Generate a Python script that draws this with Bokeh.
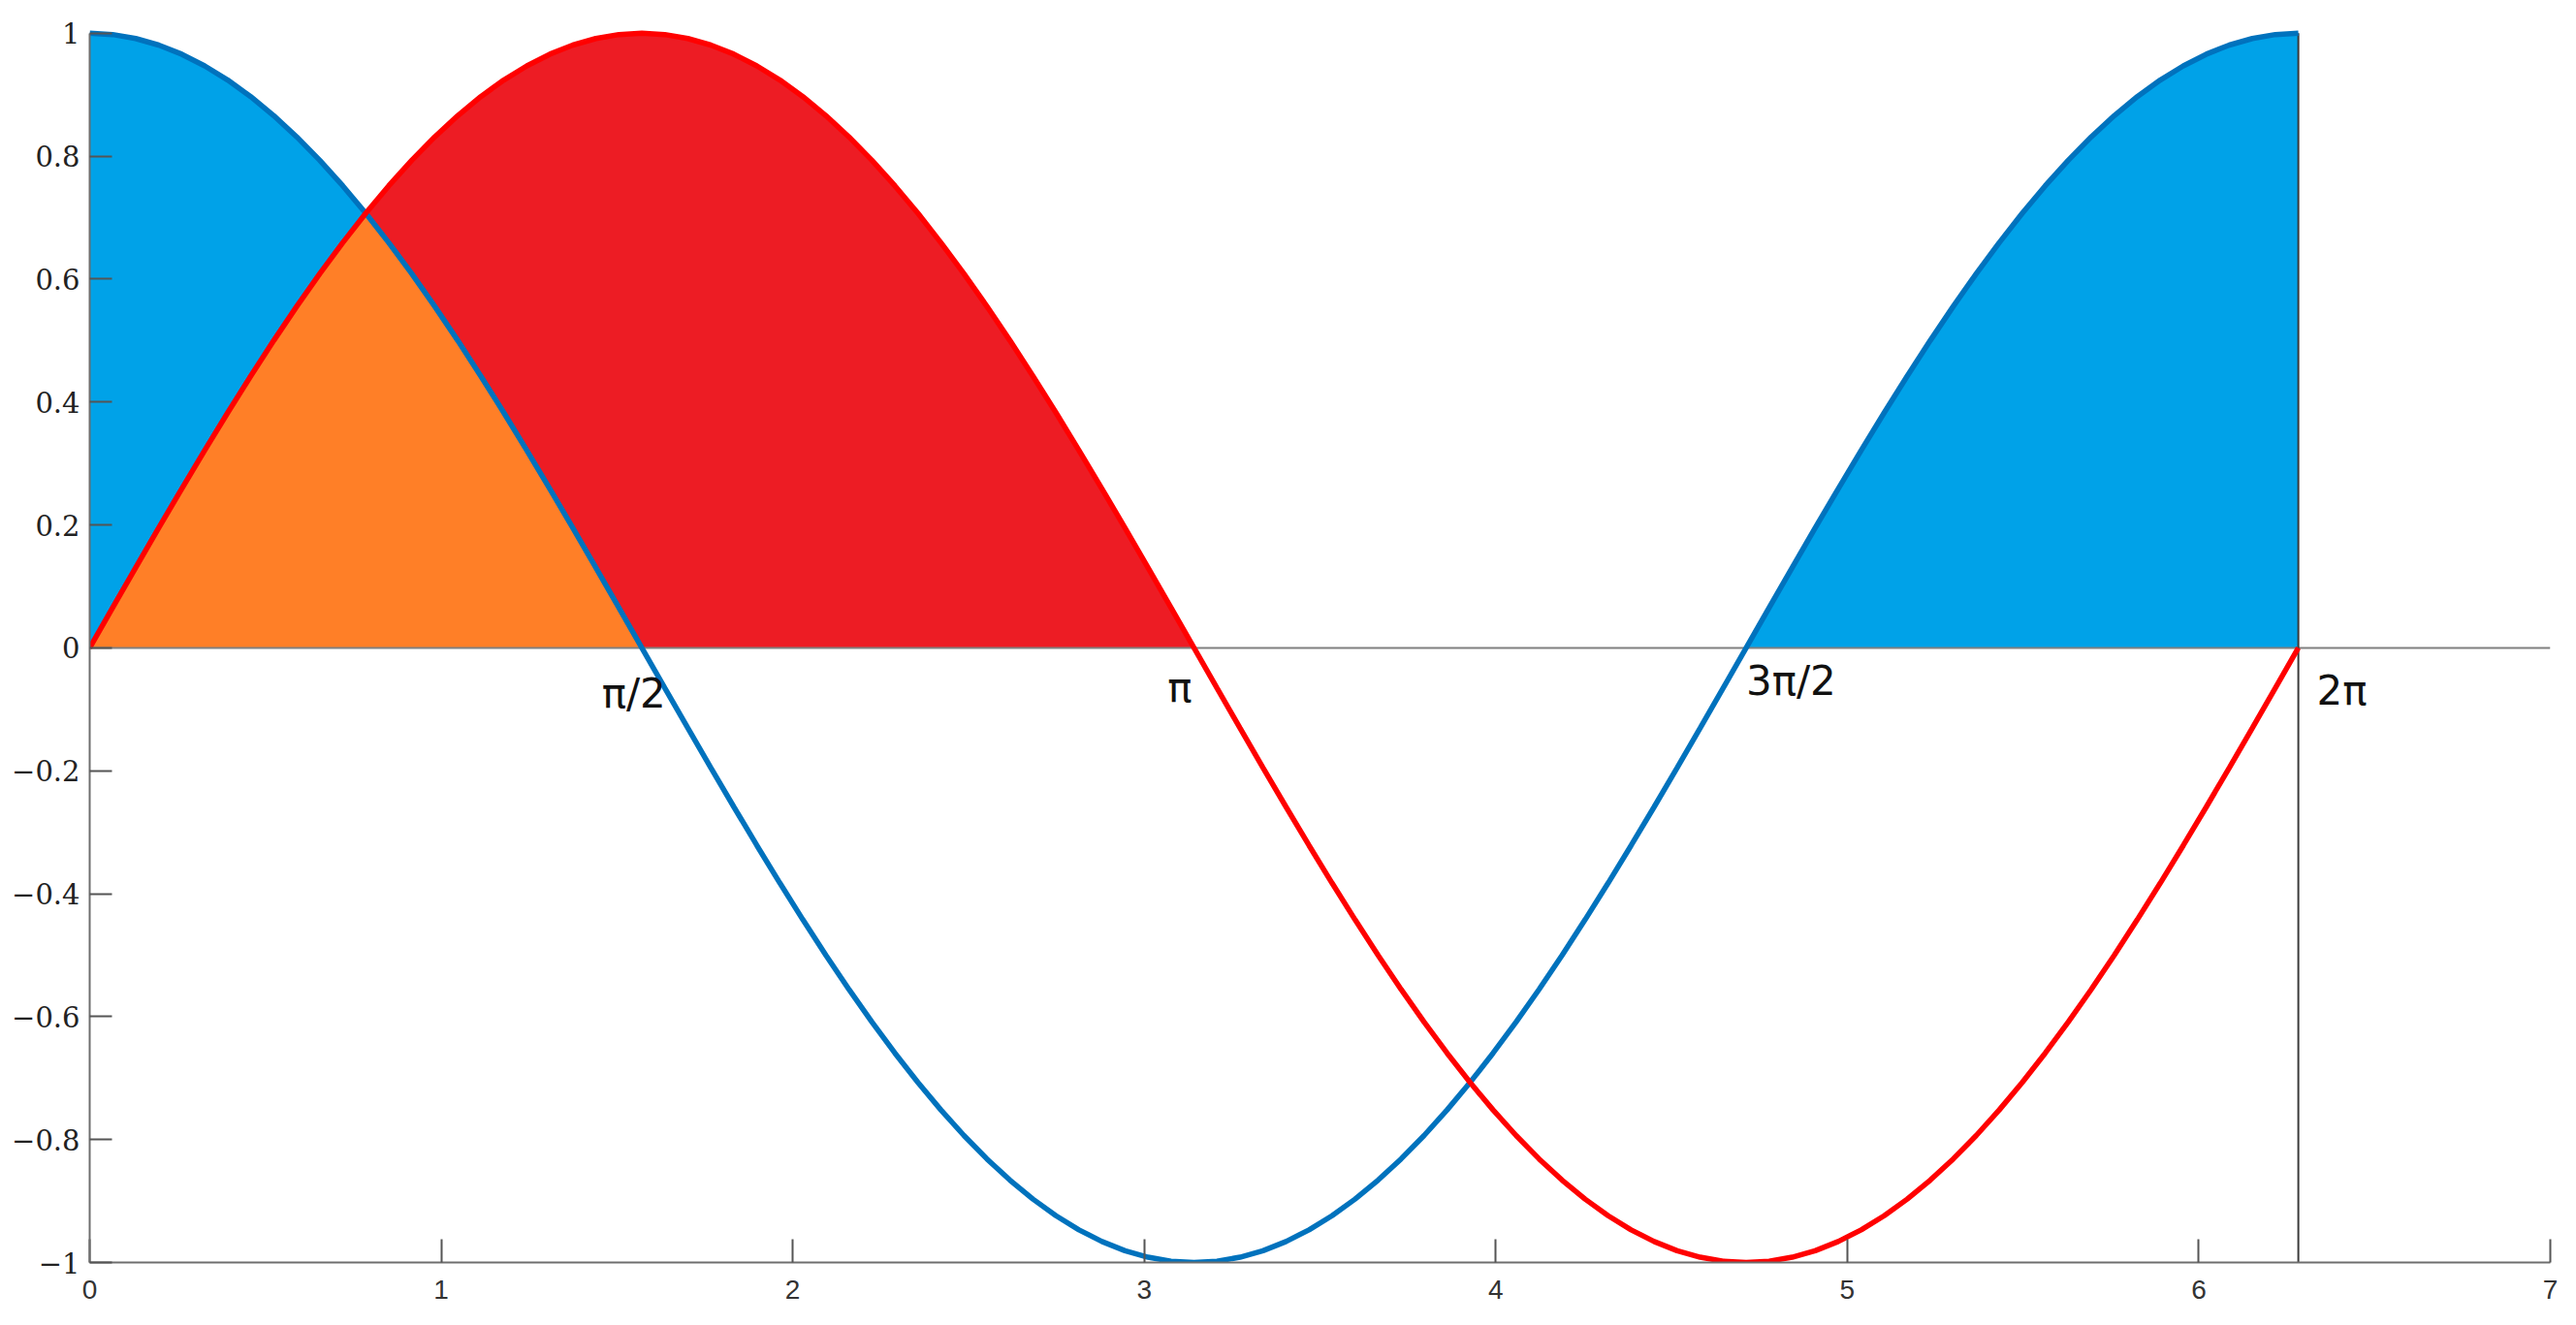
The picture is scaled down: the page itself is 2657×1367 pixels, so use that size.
from bokeh.plotting import figure
from bokeh.models import Range1d, FixedTicker
from bokeh.core.properties import value
from bokeh.embed import file_html
from bokeh.resources import INLINE
import numpy as np

# ---- data (angle samples over one period, with sine and cosine values) ----
angle = [0.0, 0.0654, 0.1309, 0.1963, 0.2618, 0.3272, 0.3927, 0.4581, 0.5236, 0.5890,
         0.6545, 0.7199, 0.7854, 0.8508, 0.9163, 0.9817, 1.0472, 1.1126, 1.1781, 1.2435,
         1.3090, 1.3744, 1.4399, 1.5053, 1.5708, 1.6362, 1.7017, 1.7671, 1.8326, 1.8980,
         1.9635, 2.0289, 2.0944, 2.1598, 2.2253, 2.2907, 2.3562, 2.4216, 2.4871, 2.5525,
         2.6180, 2.6834, 2.7489, 2.8143, 2.8798, 2.9452, 3.0107, 3.0761, 3.1416, 3.2070,
         3.2725, 3.3379, 3.4034, 3.4688, 3.5343, 3.5997, 3.6652, 3.7306, 3.7961, 3.8615,
         3.9270, 3.9924, 4.0579, 4.1233, 4.1888, 4.2542, 4.3197, 4.3851, 4.4506, 4.5160,
         4.5815, 4.6469, 4.7124, 4.7778, 4.8433, 4.9087, 4.9742, 5.0396, 5.1051, 5.1705,
         5.2360, 5.3014, 5.3669, 5.4323, 5.4978, 5.5632, 5.6287, 5.6941, 5.7596, 5.8250,
         5.8905, 5.9559, 6.0214, 6.0868, 6.1523, 6.2177, 6.2832]
sine = [0.0, 0.0654, 0.1305, 0.1951, 0.2588, 0.3214, 0.3827, 0.4423, 0.5, 0.5556,
        0.6088, 0.6593, 0.7071, 0.7518, 0.7934, 0.8315, 0.866, 0.8969, 0.9239, 0.9469,
        0.9659, 0.9808, 0.9914, 0.9979, 1.0,
        0.9979, 0.9914, 0.9808, 0.9659, 0.9469, 0.9239, 0.8969, 0.866, 0.8315, 0.7934,
        0.7518, 0.7071, 0.6593, 0.6088, 0.5556, 0.5, 0.4423, 0.3827, 0.3214, 0.2588,
        0.1951, 0.1305, 0.0654, 0.0,
        -0.0654, -0.1305, -0.1951, -0.2588, -0.3214, -0.3827, -0.4423, -0.5, -0.5556, -0.6088,
        -0.6593, -0.7071, -0.7518, -0.7934, -0.8315, -0.866, -0.8969, -0.9239, -0.9469, -0.9659,
        -0.9808, -0.9914, -0.9979, -1.0,
        -0.9979, -0.9914, -0.9808, -0.9659, -0.9469, -0.9239, -0.8969, -0.866, -0.8315, -0.7934,
        -0.7518, -0.7071, -0.6593, -0.6088, -0.5556, -0.5, -0.4423, -0.3827, -0.3214, -0.2588,
        -0.1951, -0.1305, -0.0654, 0.0]
cosine = [1.0, 0.9979, 0.9914, 0.9808, 0.9659, 0.9469, 0.9239, 0.8969, 0.866, 0.8315,
          0.7934, 0.7518, 0.7071, 0.6593, 0.6088, 0.5556, 0.5, 0.4423, 0.3827, 0.3214,
          0.2588, 0.1951, 0.1305, 0.0654, 0.0,
          -0.0654, -0.1305, -0.1951, -0.2588, -0.3214, -0.3827, -0.4423, -0.5, -0.5556, -0.6088,
          -0.6593, -0.7071, -0.7518, -0.7934, -0.8315, -0.866, -0.8969, -0.9239, -0.9469, -0.9659,
          -0.9808, -0.9914, -0.9979, -1.0,
          -0.9979, -0.9914, -0.9808, -0.9659, -0.9469, -0.9239, -0.8969, -0.866, -0.8315, -0.7934,
          -0.7518, -0.7071, -0.6593, -0.6088, -0.5556, -0.5, -0.4423, -0.3827, -0.3214, -0.2588,
          -0.1951, -0.1305, -0.0654, 0.0,
          0.0654, 0.1305, 0.1951, 0.2588, 0.3214, 0.3827, 0.4423, 0.5, 0.5556, 0.6088,
          0.6593, 0.7071, 0.7518, 0.7934, 0.8315, 0.866, 0.8969, 0.9239, 0.9469, 0.9659,
          0.9808, 0.9914, 0.9979, 1.0]

x_ticks = [0, 1, 2, 3, 4, 5, 6, 7]
x_tick_labels = ["0", "1", "2", "3", "4", "5", "6", "7"]
y_ticks = [-1, -0.8, -0.6, -0.4, -0.2, 0, 0.2, 0.4, 0.6, 0.8, 1]
y_tick_labels = ["\u22121", "\u22120.8", "\u22120.6", "\u22120.4", "\u22120.2", "0",
                 "0.2", "0.4", "0.6", "0.8", "1"]
angle_labels = ["\u03c0/2", "\u03c0", "3\u03c0/2", "2\u03c0"]
period_end = 6.2832

# ---- layout constants ----
label_x = [1.548, 3.101, 4.840, 6.407]
label_y = [-0.075, -0.065, -0.054, -0.07]

x = np.array(angle)
s = np.array(sine)
c = np.array(cosine)

p = figure(width=2640, height=1352, output_backend="svg", toolbar_location=None,
           x_range=Range1d(0, 7), y_range=Range1d(-1, 1.006),
           min_border_left=92, min_border_right=10, min_border_top=30, min_border_bottom=50)
p.grid.visible = False
p.outline_line_color = None
p.background_fill_color = "white"

# fills
p.varea(x=x[0:13], y1=s[0:13], y2=c[0:13], fill_color="#00A2E8")
p.varea(x=x[0:25], y1=np.zeros(25), y2=np.minimum(s[0:25], c[0:25]), fill_color="#FF7F27")
p.varea(x=x[12:49], y1=np.maximum(c[12:49], 0), y2=s[12:49], fill_color="#ED1C24")
p.varea(x=x[72:97], y1=np.zeros(25), y2=c[72:97], fill_color="#00A2E8")

# zero line and period end line
p.segment(x0=[0], y0=[0], x1=[7], y1=[0], line_color="#808080", line_width=2)
p.segment(x0=[period_end], y0=[-1], x1=[period_end], y1=[1], line_color="#3a3a3a", line_width=2)

# curves
p.line(x, c, line_color="#0072BD", line_width=5.5)
p.line(x, s, line_color="#FF0000", line_width=5.5)

# angle labels
p.text(x=label_x, y=label_y, text=angle_labels, text_font=value("DejaVu Sans"),
       text_font_size="42px", text_align="center", text_baseline="middle", text_color="#111111")

# axes
xa = p.xaxis[0]
xa.ticker = FixedTicker(ticks=x_ticks)
xa.major_label_overrides = {t: l for t, l in zip(x_ticks, x_tick_labels)}
xa.major_tick_in = 24
xa.major_tick_out = 0
xa.minor_tick_line_color = None
xa.axis_line_color = "#6e6e6e"
xa.axis_line_width = 2
xa.major_tick_line_color = "#555555"
xa.major_tick_line_width = 2
xa.major_label_text_font = "Liberation Sans"
xa.major_label_text_font_size = "28px"
xa.major_label_text_color = "#333333"
xa.major_label_standoff = 18

ya = p.yaxis[0]
ya.bounds = (-1, 1)
ya.ticker = FixedTicker(ticks=y_ticks)
ya.major_label_overrides = {t: l for t, l in zip(y_ticks, y_tick_labels)}
ya.major_tick_in = 23
ya.major_tick_out = 0
ya.minor_tick_line_color = None
ya.axis_line_color = "#6e6e6e"
ya.axis_line_width = 2
ya.major_tick_line_color = "#555555"
ya.major_tick_line_width = 2
ya.major_label_text_font = "DejaVu Serif"
ya.major_label_text_font_size = "29px"
ya.major_label_text_color = "#222222"
ya.major_label_standoff = 10

open("out.html", "w").write(file_html(p, INLINE))
